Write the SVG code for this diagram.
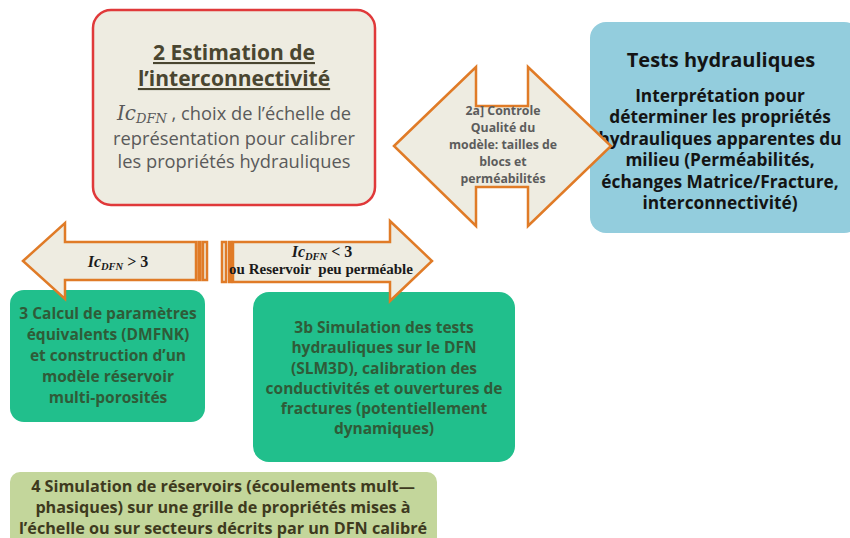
<svg xmlns="http://www.w3.org/2000/svg" width="850" height="538" viewBox="0 0 850 538">
  <style>
    .sans { font-family: "Open Sans", Lato, "Liberation Sans", sans-serif; }
    .math { font-family: "DejaVu Serif", "Liberation Serif", serif; font-style: italic; }
    .bold { font-weight: bold; }
    .arrow { fill: #eeece1; stroke: #e07b27; stroke-width: 2.5; stroke-linejoin: miter; }
    .stripe { fill: #eeece1; stroke: #e07b27; stroke-width: 2.5; }
    .title2 { fill: #4a4630; font-size: 21px; font-weight: bold; text-decoration: underline; }
    .body2 { fill: #5a5a5a; font-size: 18.3px; }
    .blue-t { fill: #141414; }
    .green-t { fill: #2f5b38; font-size: 15.5px; font-weight: bold; }
    .olive-t { fill: #3e3a1e; font-size: 16.2px; font-weight: bold; }
    .dbl-t { fill: #5c5c5c; font-size: 12.3px; font-weight: bold; }
    .cond { fill: #1a1a1a; font-weight: bold; font-family: "Liberation Serif", "DejaVu Serif", serif; white-space: pre; }
  </style>

  <rect width="850" height="538" fill="#ffffff"/>

  <!-- Step 2: interconnectivity estimation -->
  <g id="node-estimation">
    <rect x="93" y="10" width="282" height="195" rx="18" fill="#eeece1" stroke="#e0393a" stroke-width="2.5"/>
    <g class="sans" text-anchor="middle">
      <text class="title2" x="234" y="60">2 Estimation de</text>
      <text class="title2" x="234" y="86">l’interconnectivité</text>
      <text class="body2" x="234" y="120"><tspan class="math" font-size="20" font-weight="normal">Ic</tspan><tspan class="math" font-size="13" dy="3">DFN</tspan><tspan dy="-3"> , choix de l’échelle de</tspan></text>
      <text class="body2" x="234" y="145">représentation pour calibrer</text>
      <text class="body2" x="234" y="168">les propriétés hydrauliques</text>
    </g>
  </g>

  <!-- Hydraulic tests -->
  <g id="node-tests">
    <rect x="590" y="22" width="270" height="211" rx="16" fill="#93cddd"/>
    <g class="sans bold blue-t" text-anchor="middle">
      <text x="721" y="67" font-size="20">Tests hydrauliques</text>
      <text x="720" y="102" font-size="17.3">Interprétation pour</text>
      <text x="720" y="123" font-size="17.3">déterminer les propriétés</text>
      <text x="720" y="145" font-size="17.3">hydrauliques apparentes du</text>
      <text x="720" y="166" font-size="17.3">milieu (Perméabilités,</text>
      <text x="720" y="188" font-size="17.3">échanges Matrice/Fracture,</text>
      <text x="720" y="209" font-size="17.3">interconnectivité)</text>
    </g>
  </g>

  <!-- Step 3: equivalent parameters -->
  <g id="node-dmfnk">
    <rect x="10" y="290" width="195" height="132" rx="14" fill="#21bf8c"/>
    <g class="sans green-t" text-anchor="middle">
      <text x="108" y="319">3 Calcul de paramètres</text>
      <text x="108" y="340">équivalents (DMFNK)</text>
      <text x="108" y="361">et construction d’un</text>
      <text x="108" y="382">modèle réservoir</text>
      <text x="108" y="403">multi-porosités</text>
    </g>
  </g>

  <!-- Step 3b: DFN hydraulic simulation -->
  <g id="node-slm3d">
    <rect x="253" y="292" width="262" height="170" rx="16" fill="#21bf8c"/>
    <g class="sans green-t" text-anchor="middle">
      <text x="384" y="333">3b Simulation des tests</text>
      <text x="384" y="353">hydrauliques sur le DFN</text>
      <text x="384" y="374">(SLM3D), calibration des</text>
      <text x="384" y="394">conductivités et ouvertures de</text>
      <text x="384" y="414">fractures (potentiellement</text>
      <text x="384" y="434">dynamiques)</text>
    </g>
  </g>

  <!-- Step 4: reservoir simulation -->
  <g id="node-reservoir">
    <rect x="10" y="472" width="427" height="80" rx="10" fill="#c3d69b"/>
    <g class="sans olive-t" text-anchor="middle">
      <text x="223" y="492">4 Simulation de réservoirs (écoulements mult—</text>
      <text x="223" y="513">phasiques) sur une grille de propriétés mises à</text>
      <text x="223" y="534">l’échelle ou sur secteurs décrits par un DFN calibré</text>
    </g>
  </g>

  <!-- Connectors: block arrows -->
  <g id="connectors">
    <g id="arrow-quality">
      <polygon class="arrow" points="394,146 476,67 476,106 528,106 528,67 611,146 528,226 528,187 476,187 476,226"/>
      <g class="sans dbl-t" text-anchor="middle">
        <text x="503" y="115">2a] Controle</text>
        <text x="503" y="132">Qualité du</text>
        <text x="503" y="149">modèle: tailles de</text>
        <text x="503" y="166">blocs et</text>
        <text x="503" y="183">perméabilités</text>
      </g>
    </g>

    <g id="arrow-high">
      <polygon class="arrow" points="23,261 65,223 65,242 196,242 196,280 65,280 65,299"/>
      <rect class="stripe" x="198.5" y="242" width="2" height="38"/>
      <rect class="stripe" x="203" y="242" width="4" height="38"/>
      <text class="cond" x="118" y="267" text-anchor="middle" font-size="16"><tspan font-style="italic">Ic</tspan><tspan font-style="italic" font-size="10.5" dy="3">DFN</tspan><tspan dy="-3"> &gt; 3</tspan></text>
    </g>

    <g id="arrow-low">
      <polygon class="arrow" points="233,242 390,242 390,221 432,261 390,301 390,282 233,282"/>
      <rect class="stripe" x="222" y="242" width="4" height="40"/>
      <rect class="stripe" x="229" y="242" width="2" height="40"/>
      <text class="cond" x="322" y="257" text-anchor="middle" font-size="16"><tspan font-style="italic">Ic</tspan><tspan font-style="italic" font-size="10.5" dy="3">DFN</tspan><tspan dy="-3"> &lt; 3</tspan></text>
      <text class="cond" x="321" y="274" text-anchor="middle" font-size="15">ou Reservoir  peu perméable</text>
    </g>
  </g>
</svg>
